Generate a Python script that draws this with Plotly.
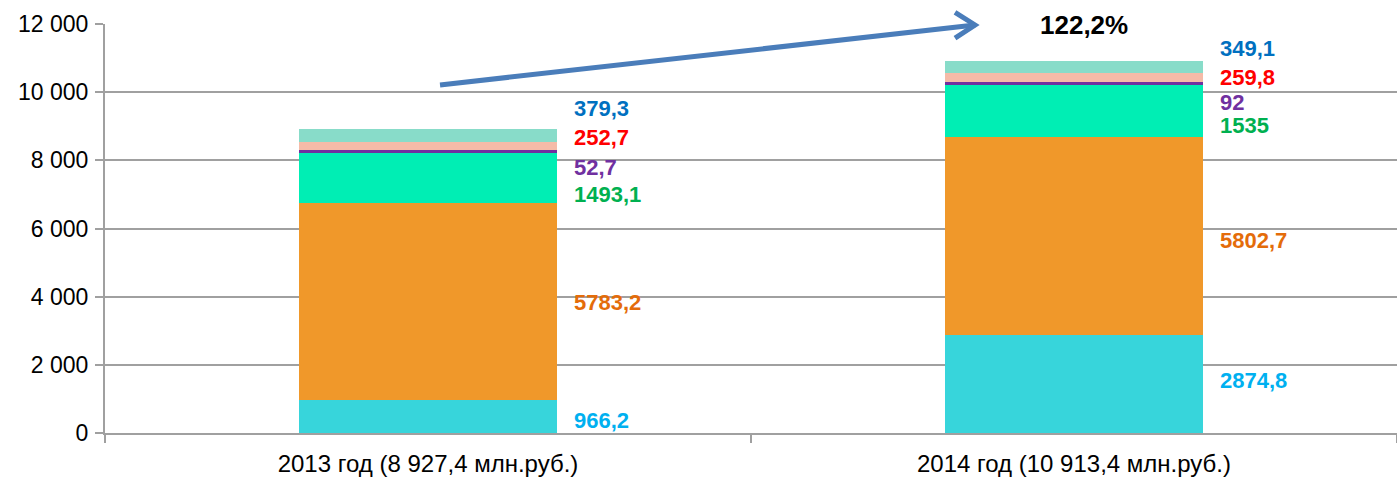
import plotly.graph_objects as go

# ---- data ----
categories = ["2013 год (8 927,4 млн.руб.)", "2014 год (10 913,4 млн.руб.)"]
seg1 = [966.2, 2874.8]
seg2 = [5783.2, 5802.7]
seg3 = [1493.1, 1535.0]
seg4 = [52.7, 92.0]
seg5 = [252.7, 259.8]
seg6 = [379.3, 349.1]
growth_text = "122,2%"
y_ticks = [0, 2000, 4000, 6000, 8000, 10000, 12000]

series = [seg1, seg2, seg3, seg4, seg5, seg6]

# ---- styles ----
bar_colors = ["#37D5DB", "#F0982A", "#00EEB4", "#7030A0", "#F5BBA8", "#88DCC9"]
label_colors = ["#00B0F0", "#E46C0A", "#00B050", "#7030A0", "#FF0000", "#0070C0"]
# vertical pixel nudges for the value labels (per series, per category)
label_nudge = [[-4, 4], [-1, -4], [-17, -14], [-16, -19], [8, 0], [27, 18]]
FONT = "Liberation Sans Narrow, Arial Narrow, Liberation Sans, Arial, sans-serif"
GRID = "#A0A0A0"


def fmt(v):
    return f"{v:g}".replace(".", ",")


fig = go.Figure()
for i, vals in enumerate(series):
    fig.add_trace(go.Bar(
        x=categories, y=vals, name=f"s{i+1}",
        marker=dict(color=bar_colors[i], line=dict(width=0)),
        width=0.4, hoverinfo="skip",
    ))

annotations = []
for j, cat in enumerate(categories):
    base = 0.0
    for i, vals in enumerate(series):
        mid = base + vals[j] / 2
        base += vals[j]
        annotations.append(dict(
            x=cat, y=mid, xref="x", yref="y", text=f"<b>{fmt(vals[j])}</b>",
            showarrow=False, xanchor="left", yanchor="middle",
            xshift=144, yshift=label_nudge[i][j],
            font=dict(family=FONT, size=22, color=label_colors[i]),
        ))

# growth label
annotations.append(dict(
    x=0.7577, y=0.9976, xref="paper", yref="paper", text=f"<b>{growth_text}</b>",
    showarrow=False, xanchor="center", yanchor="middle",
    font=dict(family=FONT, size=26, color="#000000"),
))

# arrow (paper coordinates)
x0, y0 = 0.2593, 0.8509
x1, y1 = 0.6734, 0.9976
shapes = [
    dict(type="line", xref="paper", yref="paper", x0=x0, y0=y0, x1=x1, y1=y1,
         line=dict(color="#4A7DBA", width=5), layer="above"),
    dict(type="path", xref="paper", yref="paper",
         path=f"M {x1-0.0155},{y1+0.031} L {x1},{y1} L {x1-0.0155},{y1-0.032}",
         line=dict(color="#4A7DBA", width=5), layer="above"),
]

fig.update_layout(
    barmode="stack",
    width=1397, height=485,
    margin=dict(l=105, r=0, t=24, b=52),
    plot_bgcolor="white", paper_bgcolor="white",
    showlegend=False,
    separators=", ",
    bargap=0.6,
    annotations=annotations,
    shapes=shapes,
    font=dict(family=FONT, size=23, color="#000000"),
)
fig.update_yaxes(
    range=[0, 12000], tickvals=y_ticks, tickformat=",d", automargin=False,
    showgrid=True, gridcolor=GRID, gridwidth=2,
    showline=True, linecolor=GRID, linewidth=2,
    ticks="outside", ticklen=8, tickcolor=GRID, tickwidth=2,
    ticklabelstandoff=2,
    tickfont=dict(family=FONT, size=23, color="#000000"),
    zeroline=False,
)
fig.update_xaxes(
    range=[-0.5, 1.5], automargin=False,
    showline=True, linecolor=GRID, linewidth=2,
    ticks="outside", ticklen=8, tickcolor=GRID, tickwidth=2, tickson="boundaries",
    ticklabelstandoff=8,
    tickfont=dict(family=FONT, size=24, color="#000000"),
    showgrid=False,
)

fig.write_html("out.html", config={"displayModeBar": False},
               post_script="document.body.style.margin='0';")
